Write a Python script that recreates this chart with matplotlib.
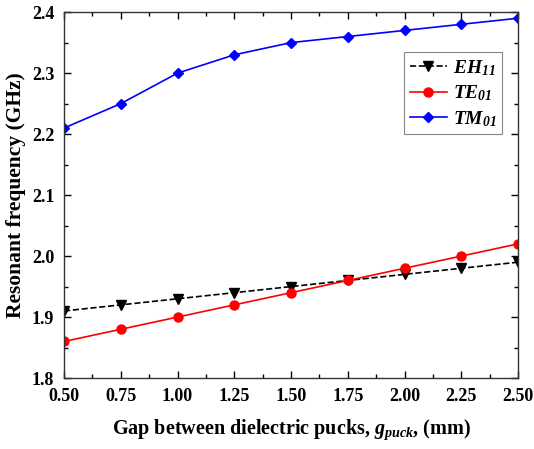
import matplotlib
matplotlib.use("Agg")
import matplotlib.pyplot as plt
from matplotlib.ticker import MultipleLocator

gap = [0.50, 0.75, 1.00, 1.25, 1.50, 1.75, 2.00, 2.25, 2.50]
eh11 = [1.91, 1.92, 1.93, 1.94, 1.95, 1.96, 1.97, 1.98, 1.99]
te01 = [1.86, 1.88, 1.90, 1.92, 1.94, 1.96, 1.98, 2.00, 2.02]
tm01 = [2.21, 2.25, 2.30, 2.33, 2.35, 2.36, 2.37, 2.38, 2.39]

plt.rcParams["font.family"] = "Liberation Serif"
plt.rcParams["font.weight"] = "bold"
plt.rcParams["mathtext.fontset"] = "custom"
plt.rcParams["mathtext.it"] = "Liberation Serif:italic:bold"
plt.rcParams["mathtext.rm"] = "Liberation Serif:italic:bold"
plt.rcParams["mathtext.bf"] = "Liberation Serif:italic:bold"

fig, ax = plt.subplots(figsize=(5.34, 4.49), dpi=100)
fig.subplots_adjust(left=0.120, right=0.970, top=0.973, bottom=0.158)

ax.plot(gap, eh11, "--", color="black", marker="v", markersize=6.5, lw=1.2,
        label=r"$EH_{11}$")
ax.plot(gap, te01, "-", color="#ff0000", marker="o", markersize=6.5, lw=1.2,
        label=r"$TE_{01}$")
ax.plot(gap, tm01, "-", color="#0000ff", marker="D", markersize=5.5, lw=1.2,
        label=r"$TM_{01}$")

ax.set_xlim(0.5, 2.5)
ax.set_ylim(1.8, 2.4)
ax.xaxis.set_major_locator(MultipleLocator(0.25))
ax.xaxis.set_minor_locator(MultipleLocator(0.125))
ax.yaxis.set_major_locator(MultipleLocator(0.1))
ax.yaxis.set_minor_locator(MultipleLocator(0.05))
ax.xaxis.set_major_formatter(plt.FormatStrFormatter("%.2f"))
ax.yaxis.set_major_formatter(plt.FormatStrFormatter("%.1f"))
ax.tick_params(which="both", direction="in", top=True, right=True, labelsize=13)
ax.tick_params(which="major", length=5, width=1)
ax.tick_params(which="minor", length=3, width=1)
ax.tick_params(axis="x", which="major", pad=7)
ax.tick_params(axis="y", which="major", pad=7)
for s in ax.spines.values():
    s.set_linewidth(1.0)
    s.set_color("#333333")

ax.set_xlabel(r"Gap between dielectric pucks, $g_{puck}$, (mm)", fontsize=14.5,
              fontweight="bold", labelpad=9)
ax.set_ylabel("Resonant frequency (GHz)", fontsize=15.5, fontweight="bold", labelpad=4)

leg = ax.legend(loc="upper right", bbox_to_anchor=(0.965, 0.891), fontsize=14,
                fancybox=False, edgecolor="#888888", framealpha=1,
                handlelength=1.9, handletextpad=0.3, borderpad=0.3,
                labelspacing=0.3, borderaxespad=0)
leg.get_frame().set_linewidth(0.8)

fig.savefig("out.png", dpi=100)
